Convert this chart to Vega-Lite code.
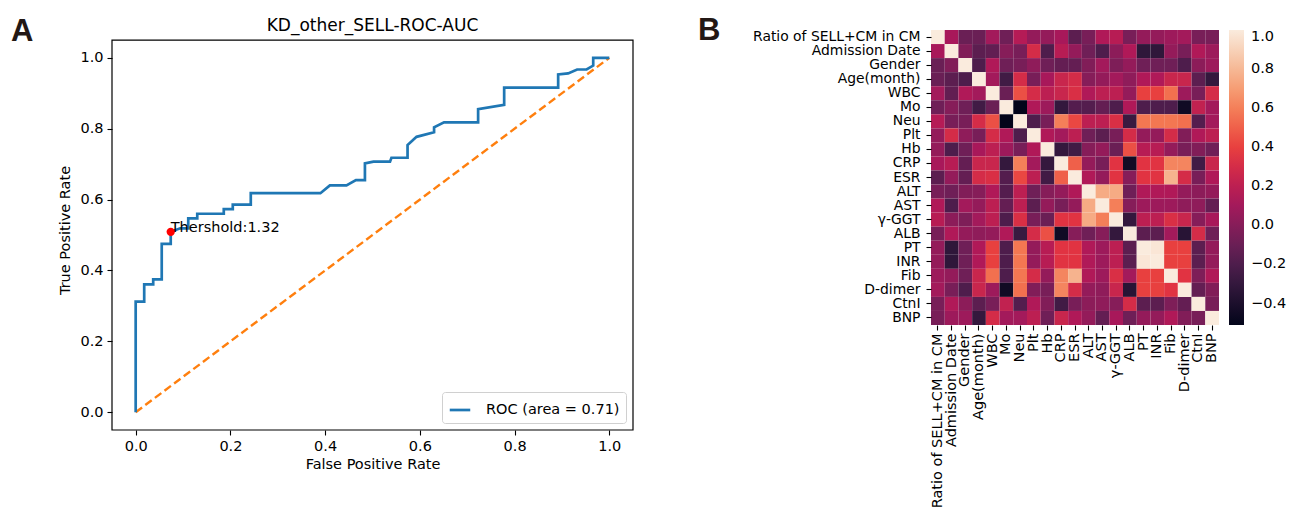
{
 "$schema": "https://vega.github.io/schema/vega-lite/v6.json",
 "background": "white",
 "padding": {"left": 11, "top": 14, "right": 5, "bottom": 0},
 "config": {
  "font": "DejaVu Sans",
  "axis": {"labelFont": "DejaVu Sans", "titleFont": "DejaVu Sans", "labelColor": "black", "titleColor": "black", "tickColor": "black", "domainColor": "black", "labelFontSize": 14.5, "titleFontSize": 14.5, "titleFontWeight": "normal", "grid": false, "tickSize": 5, "tickWidth": 1.1},
  "legend": {"labelFont": "DejaVu Sans", "labelColor": "black"},
  "title": {"font": "DejaVu Sans", "fontWeight": "normal", "color": "black"}
 },
 "spacing": 63,
 "resolve": {"scale": {"color": "independent", "x": "independent", "y": "independent"}, "legend": {"color": "independent"}},
 "hconcat": [
  {
   "width": 521,
   "height": 400,
   "view": {"stroke": null},
   "layer": [
    {
     "data": {"values": [{"fpr": 0, "tpr": 0}, {"fpr": 1, "tpr": 1}]},
     "mark": {"type": "line", "color": "#ff7f0e", "strokeDash": [8, 4], "strokeWidth": 2.4},
     "encoding": {
      "x": {"field": "fpr", "type": "quantitative", "scale": {"domain": [-0.05, 1.05], "nice": false, "zero": false},
            "axis": {"title": "False Positive Rate", "values": [0, 0.2, 0.4, 0.6, 0.8, 1.0], "format": ".1f", "domain": false, "labelPadding": 4, "titlePadding": 5}},
      "y": {"field": "tpr", "type": "quantitative", "scale": {"domain": [-0.05, 1.0784], "nice": false, "zero": false},
            "axis": {"title": "True Positive Rate", "values": [0, 0.2, 0.4, 0.6, 0.8, 1.0], "format": ".1f", "domain": false, "labelPadding": 4, "titlePadding": 7}}
     }
    },
    {
     "data": {"values": [{}]},
     "mark": {"type": "rect", "filled": false, "color": "black", "strokeWidth": 1.2},
     "encoding": {
      "x": {"datum": -0.05, "type": "quantitative"}, "x2": {"datum": 1.05},
      "y": {"datum": -0.05, "type": "quantitative"}, "y2": {"datum": 1.05}
     }
    },
    {
     "data": {"values": [
      {"i": 0, "fpr": 0, "tpr": 0, "s": "ROC (area = 0.71)"},
      {"i": 1, "fpr": 0, "tpr": 0.312, "s": "ROC (area = 0.71)"},
      {"i": 2, "fpr": 0.018, "tpr": 0.312, "s": "ROC (area = 0.71)"},
      {"i": 3, "fpr": 0.018, "tpr": 0.361, "s": "ROC (area = 0.71)"},
      {"i": 4, "fpr": 0.037, "tpr": 0.361, "s": "ROC (area = 0.71)"},
      {"i": 5, "fpr": 0.037, "tpr": 0.375, "s": "ROC (area = 0.71)"},
      {"i": 6, "fpr": 0.055, "tpr": 0.375, "s": "ROC (area = 0.71)"},
      {"i": 7, "fpr": 0.055, "tpr": 0.475, "s": "ROC (area = 0.71)"},
      {"i": 8, "fpr": 0.074, "tpr": 0.475, "s": "ROC (area = 0.71)"},
      {"i": 9, "fpr": 0.074, "tpr": 0.509, "s": "ROC (area = 0.71)"},
      {"i": 10, "fpr": 0.094, "tpr": 0.519, "s": "ROC (area = 0.71)"},
      {"i": 11, "fpr": 0.111, "tpr": 0.519, "s": "ROC (area = 0.71)"},
      {"i": 12, "fpr": 0.111, "tpr": 0.547, "s": "ROC (area = 0.71)"},
      {"i": 13, "fpr": 0.13, "tpr": 0.547, "s": "ROC (area = 0.71)"},
      {"i": 14, "fpr": 0.13, "tpr": 0.56, "s": "ROC (area = 0.71)"},
      {"i": 15, "fpr": 0.186, "tpr": 0.56, "s": "ROC (area = 0.71)"},
      {"i": 16, "fpr": 0.186, "tpr": 0.573, "s": "ROC (area = 0.71)"},
      {"i": 17, "fpr": 0.205, "tpr": 0.573, "s": "ROC (area = 0.71)"},
      {"i": 18, "fpr": 0.205, "tpr": 0.586, "s": "ROC (area = 0.71)"},
      {"i": 19, "fpr": 0.243, "tpr": 0.586, "s": "ROC (area = 0.71)"},
      {"i": 20, "fpr": 0.243, "tpr": 0.618, "s": "ROC (area = 0.71)"},
      {"i": 21, "fpr": 0.39, "tpr": 0.618, "s": "ROC (area = 0.71)"},
      {"i": 22, "fpr": 0.41, "tpr": 0.64, "s": "ROC (area = 0.71)"},
      {"i": 23, "fpr": 0.445, "tpr": 0.64, "s": "ROC (area = 0.71)"},
      {"i": 24, "fpr": 0.465, "tpr": 0.655, "s": "ROC (area = 0.71)"},
      {"i": 25, "fpr": 0.484, "tpr": 0.655, "s": "ROC (area = 0.71)"},
      {"i": 26, "fpr": 0.484, "tpr": 0.702, "s": "ROC (area = 0.71)"},
      {"i": 27, "fpr": 0.502, "tpr": 0.707, "s": "ROC (area = 0.71)"},
      {"i": 28, "fpr": 0.537, "tpr": 0.707, "s": "ROC (area = 0.71)"},
      {"i": 29, "fpr": 0.54, "tpr": 0.718, "s": "ROC (area = 0.71)"},
      {"i": 30, "fpr": 0.574, "tpr": 0.718, "s": "ROC (area = 0.71)"},
      {"i": 31, "fpr": 0.574, "tpr": 0.754, "s": "ROC (area = 0.71)"},
      {"i": 32, "fpr": 0.593, "tpr": 0.777, "s": "ROC (area = 0.71)"},
      {"i": 33, "fpr": 0.63, "tpr": 0.79, "s": "ROC (area = 0.71)"},
      {"i": 34, "fpr": 0.63, "tpr": 0.804, "s": "ROC (area = 0.71)"},
      {"i": 35, "fpr": 0.651, "tpr": 0.818, "s": "ROC (area = 0.71)"},
      {"i": 36, "fpr": 0.723, "tpr": 0.818, "s": "ROC (area = 0.71)"},
      {"i": 37, "fpr": 0.723, "tpr": 0.855, "s": "ROC (area = 0.71)"},
      {"i": 38, "fpr": 0.778, "tpr": 0.867, "s": "ROC (area = 0.71)"},
      {"i": 39, "fpr": 0.778, "tpr": 0.916, "s": "ROC (area = 0.71)"},
      {"i": 40, "fpr": 0.892, "tpr": 0.916, "s": "ROC (area = 0.71)"},
      {"i": 41, "fpr": 0.892, "tpr": 0.953, "s": "ROC (area = 0.71)"},
      {"i": 42, "fpr": 0.913, "tpr": 0.956, "s": "ROC (area = 0.71)"},
      {"i": 43, "fpr": 0.932, "tpr": 0.967, "s": "ROC (area = 0.71)"},
      {"i": 44, "fpr": 0.952, "tpr": 0.967, "s": "ROC (area = 0.71)"},
      {"i": 45, "fpr": 0.966, "tpr": 0.978, "s": "ROC (area = 0.71)"},
      {"i": 46, "fpr": 0.966, "tpr": 1.0, "s": "ROC (area = 0.71)"},
      {"i": 47, "fpr": 1.0, "tpr": 1.0, "s": "ROC (area = 0.71)"}
     ]},
     "mark": {"type": "line", "strokeWidth": 2.7},
     "encoding": {
      "x": {"field": "fpr", "type": "quantitative"},
      "y": {"field": "tpr", "type": "quantitative"},
      "order": {"field": "i", "type": "quantitative"},
      "color": {"field": "s", "type": "nominal", "scale": {"domain": ["ROC (area = 0.71)"], "range": ["#1f77b4"]},
                "legend": {"title": null, "orient": "bottom-right", "offset": 7, "symbolType": "stroke", "symbolSize": 420, "symbolStrokeWidth": 2.7, "labelFontSize": 14.5, "labelOffset": 14, "strokeColor": "#d0d0d0", "fillColor": "white", "padding": 6, "cornerRadius": 3}}
     }
    },
    {
     "data": {"values": [{"fpr": 0.074, "tpr": 0.509, "label": "Thershold:1.32"}]},
     "layer": [
      {"mark": {"type": "point", "filled": true, "color": "#ff0000", "opacity": 1, "size": 70},
       "encoding": {"x": {"field": "fpr", "type": "quantitative"}, "y": {"field": "tpr", "type": "quantitative"}}},
      {"mark": {"type": "text", "align": "left", "baseline": "alphabetic", "fontSize": 14.5, "color": "black"},
       "encoding": {"x": {"field": "fpr", "type": "quantitative"}, "y": {"field": "tpr", "type": "quantitative"}, "text": {"field": "label"}}}
     ]
    },
    {
     "data": {"values": [{}]},
     "mark": {"type": "text", "text": "KD_other_SELL-ROC-AUC", "align": "center", "baseline": "alphabetic", "font": "DejaVu Sans", "fontSize": 17, "color": "black"},
     "encoding": {"x": {"datum": 0.5, "type": "quantitative"}, "y": {"datum": 1.0755, "type": "quantitative"}}
    },
    {
     "data": {"values": [{}]},
     "mark": {"type": "text", "text": "A", "align": "left", "baseline": "alphabetic", "font": "Liberation Sans", "fontSize": 31, "fontWeight": "bold", "color": "#231815"},
     "encoding": {"x": {"datum": -0.263, "type": "quantitative"}, "y": {"datum": 1.047, "type": "quantitative"}}
    }
   ]
  },
  {
   "width": 288,
   "height": 295,
   "view": {"stroke": null},
   "data": {"values": [
{"r":"Ratio of SELL+CM in CM","c":"Ratio of SELL+CM in CM","v":1},{"r":"Ratio of SELL+CM in CM","c":"Admission Date","v":0.12},{"r":"Ratio of SELL+CM in CM","c":"Gender","v":-0.1},{"r":"Ratio of SELL+CM in CM","c":"Age(month)","v":-0.1},{"r":"Ratio of SELL+CM in CM","c":"WBC","v":0.1},{"r":"Ratio of SELL+CM in CM","c":"Mo","v":-0.08},{"r":"Ratio of SELL+CM in CM","c":"Neu","v":0.17},{"r":"Ratio of SELL+CM in CM","c":"Plt","v":0.05},{"r":"Ratio of SELL+CM in CM","c":"Hb","v":0.05},{"r":"Ratio of SELL+CM in CM","c":"CRP","v":0.12},{"r":"Ratio of SELL+CM in CM","c":"ESR","v":-0.15},{"r":"Ratio of SELL+CM in CM","c":"ALT","v":-0.05},{"r":"Ratio of SELL+CM in CM","c":"AST","v":0.15},{"r":"Ratio of SELL+CM in CM","c":"γ-GGT","v":0.18},{"r":"Ratio of SELL+CM in CM","c":"ALB","v":-0.05},{"r":"Ratio of SELL+CM in CM","c":"PT","v":0.05},{"r":"Ratio of SELL+CM in CM","c":"INR","v":0.05},{"r":"Ratio of SELL+CM in CM","c":"Fib","v":0.08},{"r":"Ratio of SELL+CM in CM","c":"D-dimer","v":0.1},{"r":"Ratio of SELL+CM in CM","c":"CtnI","v":-0.05},{"r":"Ratio of SELL+CM in CM","c":"BNP","v":-0.05},
{"r":"Admission Date","c":"Ratio of SELL+CM in CM","v":0.12},{"r":"Admission Date","c":"Admission Date","v":1},{"r":"Admission Date","c":"Gender","v":-0.02},{"r":"Admission Date","c":"Age(month)","v":-0.15},{"r":"Admission Date","c":"WBC","v":-0.13},{"r":"Admission Date","c":"Mo","v":0.0},{"r":"Admission Date","c":"Neu","v":-0.05},{"r":"Admission Date","c":"Plt","v":0.3},{"r":"Admission Date","c":"Hb","v":-0.2},{"r":"Admission Date","c":"CRP","v":0.18},{"r":"Admission Date","c":"ESR","v":0.05},{"r":"Admission Date","c":"ALT","v":-0.08},{"r":"Admission Date","c":"AST","v":-0.2},{"r":"Admission Date","c":"γ-GGT","v":0.02},{"r":"Admission Date","c":"ALB","v":0.15},{"r":"Admission Date","c":"PT","v":-0.32},{"r":"Admission Date","c":"INR","v":-0.32},{"r":"Admission Date","c":"Fib","v":0.05},{"r":"Admission Date","c":"D-dimer","v":-0.05},{"r":"Admission Date","c":"CtnI","v":0.15},{"r":"Admission Date","c":"BNP","v":0.08},
{"r":"Gender","c":"Ratio of SELL+CM in CM","v":-0.1},{"r":"Gender","c":"Admission Date","v":-0.02},{"r":"Gender","c":"Gender","v":1},{"r":"Gender","c":"Age(month)","v":-0.2},{"r":"Gender","c":"WBC","v":0.15},{"r":"Gender","c":"Mo","v":-0.08},{"r":"Gender","c":"Neu","v":-0.05},{"r":"Gender","c":"Plt","v":0.03},{"r":"Gender","c":"Hb","v":-0.08},{"r":"Gender","c":"CRP","v":-0.12},{"r":"Gender","c":"ESR","v":-0.12},{"r":"Gender","c":"ALT","v":-0.02},{"r":"Gender","c":"AST","v":0.1},{"r":"Gender","c":"γ-GGT","v":-0.03},{"r":"Gender","c":"ALB","v":0.05},{"r":"Gender","c":"PT","v":-0.08},{"r":"Gender","c":"INR","v":-0.08},{"r":"Gender","c":"Fib","v":-0.08},{"r":"Gender","c":"D-dimer","v":-0.2},{"r":"Gender","c":"CtnI","v":0.02},{"r":"Gender","c":"BNP","v":0.08},
{"r":"Age(month)","c":"Ratio of SELL+CM in CM","v":-0.1},{"r":"Age(month)","c":"Admission Date","v":-0.15},{"r":"Age(month)","c":"Gender","v":-0.2},{"r":"Age(month)","c":"Age(month)","v":1},{"r":"Age(month)","c":"WBC","v":0.1},{"r":"Age(month)","c":"Mo","v":-0.25},{"r":"Age(month)","c":"Neu","v":0.3},{"r":"Age(month)","c":"Plt","v":-0.05},{"r":"Age(month)","c":"Hb","v":0.12},{"r":"Age(month)","c":"CRP","v":0.25},{"r":"Age(month)","c":"ESR","v":0.3},{"r":"Age(month)","c":"ALT","v":0.0},{"r":"Age(month)","c":"AST","v":0.05},{"r":"Age(month)","c":"γ-GGT","v":0.1},{"r":"Age(month)","c":"ALB","v":0.03},{"r":"Age(month)","c":"PT","v":0.15},{"r":"Age(month)","c":"INR","v":0.15},{"r":"Age(month)","c":"Fib","v":0.25},{"r":"Age(month)","c":"D-dimer","v":0.25},{"r":"Age(month)","c":"CtnI","v":-0.15},{"r":"Age(month)","c":"BNP","v":-0.3},
{"r":"WBC","c":"Ratio of SELL+CM in CM","v":0.1},{"r":"WBC","c":"Admission Date","v":-0.13},{"r":"WBC","c":"Gender","v":0.15},{"r":"WBC","c":"Age(month)","v":0.1},{"r":"WBC","c":"WBC","v":1},{"r":"WBC","c":"Mo","v":-0.1},{"r":"WBC","c":"Neu","v":0.45},{"r":"WBC","c":"Plt","v":0.3},{"r":"WBC","c":"Hb","v":0.2},{"r":"WBC","c":"CRP","v":0.25},{"r":"WBC","c":"ESR","v":0.32},{"r":"WBC","c":"ALT","v":0.15},{"r":"WBC","c":"AST","v":0.2},{"r":"WBC","c":"γ-GGT","v":0.2},{"r":"WBC","c":"ALB","v":0.05},{"r":"WBC","c":"PT","v":0.4},{"r":"WBC","c":"INR","v":0.4},{"r":"WBC","c":"Fib","v":0.55},{"r":"WBC","c":"D-dimer","v":0.08},{"r":"WBC","c":"CtnI","v":-0.05},{"r":"WBC","c":"BNP","v":0.3},
{"r":"Mo","c":"Ratio of SELL+CM in CM","v":-0.08},{"r":"Mo","c":"Admission Date","v":0.0},{"r":"Mo","c":"Gender","v":-0.08},{"r":"Mo","c":"Age(month)","v":-0.25},{"r":"Mo","c":"WBC","v":-0.1},{"r":"Mo","c":"Mo","v":1},{"r":"Mo","c":"Neu","v":-0.51},{"r":"Mo","c":"Plt","v":0.15},{"r":"Mo","c":"Hb","v":0.08},{"r":"Mo","c":"CRP","v":-0.3},{"r":"Mo","c":"ESR","v":-0.18},{"r":"Mo","c":"ALT","v":-0.18},{"r":"Mo","c":"AST","v":-0.12},{"r":"Mo","c":"γ-GGT","v":-0.2},{"r":"Mo","c":"ALB","v":0.15},{"r":"Mo","c":"PT","v":-0.2},{"r":"Mo","c":"INR","v":-0.2},{"r":"Mo","c":"Fib","v":-0.2},{"r":"Mo","c":"D-dimer","v":-0.45},{"r":"Mo","c":"CtnI","v":0.22},{"r":"Mo","c":"BNP","v":0.1},
{"r":"Neu","c":"Ratio of SELL+CM in CM","v":0.17},{"r":"Neu","c":"Admission Date","v":-0.05},{"r":"Neu","c":"Gender","v":-0.05},{"r":"Neu","c":"Age(month)","v":0.3},{"r":"Neu","c":"WBC","v":0.45},{"r":"Neu","c":"Mo","v":-0.51},{"r":"Neu","c":"Neu","v":1},{"r":"Neu","c":"Plt","v":-0.2},{"r":"Neu","c":"Hb","v":-0.05},{"r":"Neu","c":"CRP","v":0.6},{"r":"Neu","c":"ESR","v":0.42},{"r":"Neu","c":"ALT","v":0.2},{"r":"Neu","c":"AST","v":0.2},{"r":"Neu","c":"γ-GGT","v":0.32},{"r":"Neu","c":"ALB","v":-0.28},{"r":"Neu","c":"PT","v":0.57},{"r":"Neu","c":"INR","v":0.57},{"r":"Neu","c":"Fib","v":0.57},{"r":"Neu","c":"D-dimer","v":0.55},{"r":"Neu","c":"CtnI","v":-0.18},{"r":"Neu","c":"BNP","v":0.1},
{"r":"Plt","c":"Ratio of SELL+CM in CM","v":0.05},{"r":"Plt","c":"Admission Date","v":0.3},{"r":"Plt","c":"Gender","v":0.03},{"r":"Plt","c":"Age(month)","v":-0.05},{"r":"Plt","c":"WBC","v":0.3},{"r":"Plt","c":"Mo","v":0.15},{"r":"Plt","c":"Neu","v":-0.2},{"r":"Plt","c":"Plt","v":1},{"r":"Plt","c":"Hb","v":0.15},{"r":"Plt","c":"CRP","v":0.1},{"r":"Plt","c":"ESR","v":0.2},{"r":"Plt","c":"ALT","v":-0.08},{"r":"Plt","c":"AST","v":-0.15},{"r":"Plt","c":"γ-GGT","v":-0.05},{"r":"Plt","c":"ALB","v":0.3},{"r":"Plt","c":"PT","v":0.05},{"r":"Plt","c":"INR","v":0.05},{"r":"Plt","c":"Fib","v":0.3},{"r":"Plt","c":"D-dimer","v":-0.02},{"r":"Plt","c":"CtnI","v":0.15},{"r":"Plt","c":"BNP","v":0.2},
{"r":"Hb","c":"Ratio of SELL+CM in CM","v":0.05},{"r":"Hb","c":"Admission Date","v":-0.2},{"r":"Hb","c":"Gender","v":-0.08},{"r":"Hb","c":"Age(month)","v":0.12},{"r":"Hb","c":"WBC","v":0.2},{"r":"Hb","c":"Mo","v":0.08},{"r":"Hb","c":"Neu","v":-0.05},{"r":"Hb","c":"Plt","v":0.15},{"r":"Hb","c":"Hb","v":1},{"r":"Hb","c":"CRP","v":-0.3},{"r":"Hb","c":"ESR","v":-0.25},{"r":"Hb","c":"ALT","v":0.0},{"r":"Hb","c":"AST","v":0.05},{"r":"Hb","c":"γ-GGT","v":-0.1},{"r":"Hb","c":"ALB","v":0.45},{"r":"Hb","c":"PT","v":0.18},{"r":"Hb","c":"INR","v":0.18},{"r":"Hb","c":"Fib","v":0.05},{"r":"Hb","c":"D-dimer","v":-0.05},{"r":"Hb","c":"CtnI","v":-0.02},{"r":"Hb","c":"BNP","v":-0.08},
{"r":"CRP","c":"Ratio of SELL+CM in CM","v":0.12},{"r":"CRP","c":"Admission Date","v":0.18},{"r":"CRP","c":"Gender","v":-0.12},{"r":"CRP","c":"Age(month)","v":0.25},{"r":"CRP","c":"WBC","v":0.25},{"r":"CRP","c":"Mo","v":-0.3},{"r":"CRP","c":"Neu","v":0.6},{"r":"CRP","c":"Plt","v":0.1},{"r":"CRP","c":"Hb","v":-0.3},{"r":"CRP","c":"CRP","v":1},{"r":"CRP","c":"ESR","v":0.5},{"r":"CRP","c":"ALT","v":0.05},{"r":"CRP","c":"AST","v":-0.05},{"r":"CRP","c":"γ-GGT","v":0.35},{"r":"CRP","c":"ALB","v":-0.45},{"r":"CRP","c":"PT","v":0.35},{"r":"CRP","c":"INR","v":0.35},{"r":"CRP","c":"Fib","v":0.62},{"r":"CRP","c":"D-dimer","v":0.62},{"r":"CRP","c":"CtnI","v":-0.25},{"r":"CRP","c":"BNP","v":0.25},
{"r":"ESR","c":"Ratio of SELL+CM in CM","v":-0.15},{"r":"ESR","c":"Admission Date","v":0.05},{"r":"ESR","c":"Gender","v":-0.12},{"r":"ESR","c":"Age(month)","v":0.3},{"r":"ESR","c":"WBC","v":0.32},{"r":"ESR","c":"Mo","v":-0.18},{"r":"ESR","c":"Neu","v":0.42},{"r":"ESR","c":"Plt","v":0.2},{"r":"ESR","c":"Hb","v":-0.25},{"r":"ESR","c":"CRP","v":0.5},{"r":"ESR","c":"ESR","v":1},{"r":"ESR","c":"ALT","v":0.15},{"r":"ESR","c":"AST","v":0.05},{"r":"ESR","c":"γ-GGT","v":0.35},{"r":"ESR","c":"ALB","v":0.0},{"r":"ESR","c":"PT","v":0.35},{"r":"ESR","c":"INR","v":0.35},{"r":"ESR","c":"Fib","v":0.78},{"r":"ESR","c":"D-dimer","v":0.3},{"r":"ESR","c":"CtnI","v":-0.05},{"r":"ESR","c":"BNP","v":0.15},
{"r":"ALT","c":"Ratio of SELL+CM in CM","v":-0.05},{"r":"ALT","c":"Admission Date","v":-0.08},{"r":"ALT","c":"Gender","v":-0.02},{"r":"ALT","c":"Age(month)","v":0.0},{"r":"ALT","c":"WBC","v":0.15},{"r":"ALT","c":"Mo","v":-0.18},{"r":"ALT","c":"Neu","v":0.2},{"r":"ALT","c":"Plt","v":-0.08},{"r":"ALT","c":"Hb","v":0.0},{"r":"ALT","c":"CRP","v":0.05},{"r":"ALT","c":"ESR","v":0.15},{"r":"ALT","c":"ALT","v":1},{"r":"ALT","c":"AST","v":0.75},{"r":"ALT","c":"γ-GGT","v":0.75},{"r":"ALT","c":"ALB","v":-0.08},{"r":"ALT","c":"PT","v":0.15},{"r":"ALT","c":"INR","v":0.15},{"r":"ALT","c":"Fib","v":0.15},{"r":"ALT","c":"D-dimer","v":0.05},{"r":"ALT","c":"CtnI","v":0.02},{"r":"ALT","c":"BNP","v":0.05},
{"r":"AST","c":"Ratio of SELL+CM in CM","v":0.15},{"r":"AST","c":"Admission Date","v":-0.2},{"r":"AST","c":"Gender","v":0.1},{"r":"AST","c":"Age(month)","v":0.05},{"r":"AST","c":"WBC","v":0.2},{"r":"AST","c":"Mo","v":-0.12},{"r":"AST","c":"Neu","v":0.2},{"r":"AST","c":"Plt","v":-0.15},{"r":"AST","c":"Hb","v":0.05},{"r":"AST","c":"CRP","v":-0.05},{"r":"AST","c":"ESR","v":0.05},{"r":"AST","c":"ALT","v":0.75},{"r":"AST","c":"AST","v":1},{"r":"AST","c":"γ-GGT","v":0.6},{"r":"AST","c":"ALB","v":0.0},{"r":"AST","c":"PT","v":0.08},{"r":"AST","c":"INR","v":0.08},{"r":"AST","c":"Fib","v":0.08},{"r":"AST","c":"D-dimer","v":0.03},{"r":"AST","c":"CtnI","v":0.03},{"r":"AST","c":"BNP","v":-0.12},
{"r":"γ-GGT","c":"Ratio of SELL+CM in CM","v":0.18},{"r":"γ-GGT","c":"Admission Date","v":0.02},{"r":"γ-GGT","c":"Gender","v":-0.03},{"r":"γ-GGT","c":"Age(month)","v":0.1},{"r":"γ-GGT","c":"WBC","v":0.2},{"r":"γ-GGT","c":"Mo","v":-0.2},{"r":"γ-GGT","c":"Neu","v":0.32},{"r":"γ-GGT","c":"Plt","v":-0.05},{"r":"γ-GGT","c":"Hb","v":-0.1},{"r":"γ-GGT","c":"CRP","v":0.35},{"r":"γ-GGT","c":"ESR","v":0.35},{"r":"γ-GGT","c":"ALT","v":0.75},{"r":"γ-GGT","c":"AST","v":0.6},{"r":"γ-GGT","c":"γ-GGT","v":1},{"r":"γ-GGT","c":"ALB","v":-0.3},{"r":"γ-GGT","c":"PT","v":0.2},{"r":"γ-GGT","c":"INR","v":0.2},{"r":"γ-GGT","c":"Fib","v":0.32},{"r":"γ-GGT","c":"D-dimer","v":0.25},{"r":"γ-GGT","c":"CtnI","v":0.0},{"r":"γ-GGT","c":"BNP","v":0.12},
{"r":"ALB","c":"Ratio of SELL+CM in CM","v":-0.05},{"r":"ALB","c":"Admission Date","v":0.15},{"r":"ALB","c":"Gender","v":0.05},{"r":"ALB","c":"Age(month)","v":0.03},{"r":"ALB","c":"WBC","v":0.05},{"r":"ALB","c":"Mo","v":0.15},{"r":"ALB","c":"Neu","v":-0.28},{"r":"ALB","c":"Plt","v":0.3},{"r":"ALB","c":"Hb","v":0.45},{"r":"ALB","c":"CRP","v":-0.45},{"r":"ALB","c":"ESR","v":0.0},{"r":"ALB","c":"ALT","v":-0.08},{"r":"ALB","c":"AST","v":0.0},{"r":"ALB","c":"γ-GGT","v":-0.3},{"r":"ALB","c":"ALB","v":1},{"r":"ALB","c":"PT","v":-0.15},{"r":"ALB","c":"INR","v":-0.15},{"r":"ALB","c":"Fib","v":0.1},{"r":"ALB","c":"D-dimer","v":-0.35},{"r":"ALB","c":"CtnI","v":0.3},{"r":"ALB","c":"BNP","v":-0.08},
{"r":"PT","c":"Ratio of SELL+CM in CM","v":0.05},{"r":"PT","c":"Admission Date","v":-0.32},{"r":"PT","c":"Gender","v":-0.08},{"r":"PT","c":"Age(month)","v":0.15},{"r":"PT","c":"WBC","v":0.4},{"r":"PT","c":"Mo","v":-0.2},{"r":"PT","c":"Neu","v":0.57},{"r":"PT","c":"Plt","v":0.05},{"r":"PT","c":"Hb","v":0.18},{"r":"PT","c":"CRP","v":0.35},{"r":"PT","c":"ESR","v":0.35},{"r":"PT","c":"ALT","v":0.15},{"r":"PT","c":"AST","v":0.08},{"r":"PT","c":"γ-GGT","v":0.2},{"r":"PT","c":"ALB","v":-0.15},{"r":"PT","c":"PT","v":1},{"r":"PT","c":"INR","v":0.98},{"r":"PT","c":"Fib","v":0.4},{"r":"PT","c":"D-dimer","v":0.4},{"r":"PT","c":"CtnI","v":-0.15},{"r":"PT","c":"BNP","v":0.05},
{"r":"INR","c":"Ratio of SELL+CM in CM","v":0.05},{"r":"INR","c":"Admission Date","v":-0.32},{"r":"INR","c":"Gender","v":-0.08},{"r":"INR","c":"Age(month)","v":0.15},{"r":"INR","c":"WBC","v":0.4},{"r":"INR","c":"Mo","v":-0.2},{"r":"INR","c":"Neu","v":0.57},{"r":"INR","c":"Plt","v":0.05},{"r":"INR","c":"Hb","v":0.18},{"r":"INR","c":"CRP","v":0.35},{"r":"INR","c":"ESR","v":0.35},{"r":"INR","c":"ALT","v":0.15},{"r":"INR","c":"AST","v":0.08},{"r":"INR","c":"γ-GGT","v":0.2},{"r":"INR","c":"ALB","v":-0.15},{"r":"INR","c":"PT","v":0.98},{"r":"INR","c":"INR","v":1},{"r":"INR","c":"Fib","v":0.4},{"r":"INR","c":"D-dimer","v":0.4},{"r":"INR","c":"CtnI","v":-0.15},{"r":"INR","c":"BNP","v":0.05},
{"r":"Fib","c":"Ratio of SELL+CM in CM","v":0.08},{"r":"Fib","c":"Admission Date","v":0.05},{"r":"Fib","c":"Gender","v":-0.08},{"r":"Fib","c":"Age(month)","v":0.25},{"r":"Fib","c":"WBC","v":0.55},{"r":"Fib","c":"Mo","v":-0.2},{"r":"Fib","c":"Neu","v":0.57},{"r":"Fib","c":"Plt","v":0.3},{"r":"Fib","c":"Hb","v":0.05},{"r":"Fib","c":"CRP","v":0.62},{"r":"Fib","c":"ESR","v":0.78},{"r":"Fib","c":"ALT","v":0.15},{"r":"Fib","c":"AST","v":0.08},{"r":"Fib","c":"γ-GGT","v":0.32},{"r":"Fib","c":"ALB","v":0.1},{"r":"Fib","c":"PT","v":0.4},{"r":"Fib","c":"INR","v":0.4},{"r":"Fib","c":"Fib","v":1},{"r":"Fib","c":"D-dimer","v":0.35},{"r":"Fib","c":"CtnI","v":-0.03},{"r":"Fib","c":"BNP","v":0.15},
{"r":"D-dimer","c":"Ratio of SELL+CM in CM","v":0.1},{"r":"D-dimer","c":"Admission Date","v":-0.05},{"r":"D-dimer","c":"Gender","v":-0.2},{"r":"D-dimer","c":"Age(month)","v":0.25},{"r":"D-dimer","c":"WBC","v":0.08},{"r":"D-dimer","c":"Mo","v":-0.45},{"r":"D-dimer","c":"Neu","v":0.55},{"r":"D-dimer","c":"Plt","v":-0.02},{"r":"D-dimer","c":"Hb","v":-0.05},{"r":"D-dimer","c":"CRP","v":0.62},{"r":"D-dimer","c":"ESR","v":0.3},{"r":"D-dimer","c":"ALT","v":0.05},{"r":"D-dimer","c":"AST","v":0.03},{"r":"D-dimer","c":"γ-GGT","v":0.25},{"r":"D-dimer","c":"ALB","v":-0.35},{"r":"D-dimer","c":"PT","v":0.4},{"r":"D-dimer","c":"INR","v":0.4},{"r":"D-dimer","c":"Fib","v":0.35},{"r":"D-dimer","c":"D-dimer","v":1},{"r":"D-dimer","c":"CtnI","v":-0.12},{"r":"D-dimer","c":"BNP","v":-0.02},
{"r":"CtnI","c":"Ratio of SELL+CM in CM","v":-0.05},{"r":"CtnI","c":"Admission Date","v":0.15},{"r":"CtnI","c":"Gender","v":0.02},{"r":"CtnI","c":"Age(month)","v":-0.15},{"r":"CtnI","c":"WBC","v":-0.05},{"r":"CtnI","c":"Mo","v":0.22},{"r":"CtnI","c":"Neu","v":-0.18},{"r":"CtnI","c":"Plt","v":0.15},{"r":"CtnI","c":"Hb","v":-0.02},{"r":"CtnI","c":"CRP","v":-0.25},{"r":"CtnI","c":"ESR","v":-0.05},{"r":"CtnI","c":"ALT","v":0.02},{"r":"CtnI","c":"AST","v":0.03},{"r":"CtnI","c":"γ-GGT","v":0.0},{"r":"CtnI","c":"ALB","v":0.3},{"r":"CtnI","c":"PT","v":-0.15},{"r":"CtnI","c":"INR","v":-0.15},{"r":"CtnI","c":"Fib","v":-0.03},{"r":"CtnI","c":"D-dimer","v":-0.12},{"r":"CtnI","c":"CtnI","v":1},{"r":"CtnI","c":"BNP","v":-0.05},
{"r":"BNP","c":"Ratio of SELL+CM in CM","v":-0.05},{"r":"BNP","c":"Admission Date","v":0.08},{"r":"BNP","c":"Gender","v":0.08},{"r":"BNP","c":"Age(month)","v":-0.3},{"r":"BNP","c":"WBC","v":0.3},{"r":"BNP","c":"Mo","v":0.1},{"r":"BNP","c":"Neu","v":0.1},{"r":"BNP","c":"Plt","v":0.2},{"r":"BNP","c":"Hb","v":-0.08},{"r":"BNP","c":"CRP","v":0.25},{"r":"BNP","c":"ESR","v":0.15},{"r":"BNP","c":"ALT","v":0.05},{"r":"BNP","c":"AST","v":-0.12},{"r":"BNP","c":"γ-GGT","v":0.12},{"r":"BNP","c":"ALB","v":-0.08},{"r":"BNP","c":"PT","v":0.05},{"r":"BNP","c":"INR","v":0.05},{"r":"BNP","c":"Fib","v":0.15},{"r":"BNP","c":"D-dimer","v":-0.02},{"r":"BNP","c":"CtnI","v":-0.05},{"r":"BNP","c":"BNP","v":1}
   ]},
   "mark": {"type": "rect", "strokeWidth": 0},
   "encoding": {
    "x": {"field": "c", "type": "nominal",
          "sort": ["Ratio of SELL+CM in CM","Admission Date","Gender","Age(month)","WBC","Mo","Neu","Plt","Hb","CRP","ESR","ALT","AST","γ-GGT","ALB","PT","INR","Fib","D-dimer","CtnI","BNP"],
          "scale": {"paddingInner": 0, "paddingOuter": 0},
          "axis": {"title": null, "labelAngle": -90, "labelFontSize": 14.5, "domain": false, "labelPadding": 3, "labelLimit": 400, "labelOverlap": false}},
    "y": {"field": "r", "type": "nominal",
          "sort": ["Ratio of SELL+CM in CM","Admission Date","Gender","Age(month)","WBC","Mo","Neu","Plt","Hb","CRP","ESR","ALT","AST","γ-GGT","ALB","PT","INR","Fib","D-dimer","CtnI","BNP"],
          "scale": {"paddingInner": 0, "paddingOuter": 0},
          "axis": {"title": "B", "titleAngle": 0, "titleAnchor": "start", "titleBaseline": "middle", "titleFont": "Liberation Sans", "titleFontSize": 31, "titleFontWeight": "bold", "titleColor": "#231815", "titlePadding": 55,
                   "labelFontSize": 13.9, "domain": false, "labelPadding": 6, "labelLimit": 400, "labelOverlap": false}},
    "color": {"field": "v", "type": "quantitative",
              "scale": {"domain": [-0.51, -0.294, -0.208, -0.078, 0.094, 0.138, 0.352, 0.396, 0.568, 0.698, 0.784, 1.0],
                        "range": ["#03051a", "#35193e", "#4c1d4b", "#701f57", "#a11a5b", "#ad1759", "#e13342", "#e83f3f", "#f37651", "#f69c73", "#f6b48f", "#faebdd"],
                        "interpolate": "rgb"},
              "legend": {"title": null, "orient": "right", "direction": "vertical", "gradientLength": 295, "gradientThickness": 15, "values": [-0.4, -0.2, 0, 0.2, 0.4, 0.6, 0.8, 1.0], "format": ".1f", "labelFontSize": 14.5, "offset": 10, "gradientStrokeWidth": 0, "labelBaseline": "middle", "labelOffset": 7}}
   }
  }
 ]
}
